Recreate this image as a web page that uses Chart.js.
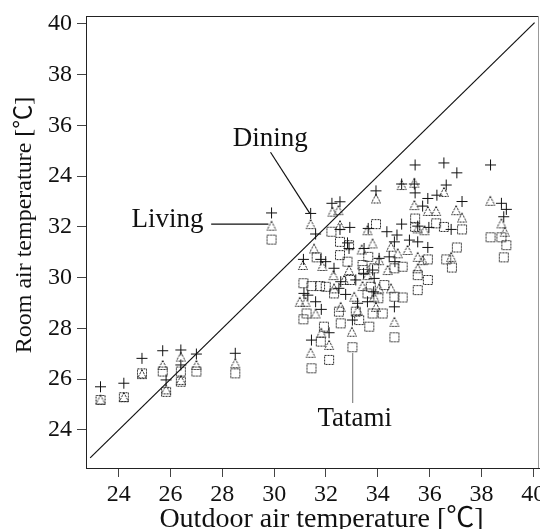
<!DOCTYPE html>
<html>
<head>
<meta charset="utf-8">
<script src="https://cdn.jsdelivr.net/npm/chart.js@4/dist/chart.umd.min.js"></script>
<style>
  body { margin: 0; background: #fff; }
  canvas { display: block; }
</style>
</head>
<body>
<canvas id="myChart" width="540" height="529"></canvas>
<script>
const xTickValues = [24, 26, 28, 30, 32, 34, 36, 38, 40];
const xTickLabels = ['24', '26', '28', '30', '32', '34', '36', '38', '40'];
const yTickValues = [24, 26, 28, 30, 32, 34, 36, 38, 40];
const yTickLabels = ['24', '26', '28', '30', '32', '24', '36', '38', '40']; // "24" at 34 as printed

const livingOut = [23.3, 24.2, 24.9, 25.7, 25.83, 26.4, 26.4, 27.0, 28.5, 29.9,
  35.44, 36.55, 38.35, 37.05, 36.64, 34.92, 35.41, 35.44, 33.93, 35.93, 36.28, 37.25, 38.77, 38.96, 38.86,
  35.73, 32.23, 32.54, 31.41, 31.6, 32.92, 32.54, 33.63, 34.35, 34.92, 35.54, 35.97, 36.83, 34.74, 35.22,
  35.54, 35.93, 34.64, 32.83, 32.89, 33.47, 31.13, 31.8, 31.99, 32.31, 34.05, 34.44, 34.66, 33.8, 33.86,
  33.45, 33.15, 32.57, 32.5, 32.76, 31.15, 31.3, 31.6, 31.82, 33.22, 33.6, 33.84, 34.64, 33.02, 32.12, 31.44];
const livingRoom = [25.7, 25.84, 26.82, 27.12, 25.97, 27.15, 26.56, 26.99, 27.02, 32.55,
  34.44, 34.52, 34.44, 34.13, 33.65, 33.69, 33.69, 33.34, 33.42, 33.12, 33.25, 33.0, 32.93, 32.69, 32.4,
  32.82, 32.93, 32.99, 32.53, 31.72, 31.98, 31.9, 31.94, 31.81, 32.11, 32.03, 31.98, 31.9, 31.68, 31.48,
  31.41, 31.19, 31.41, 31.37, 31.15, 31.15, 30.72, 30.72, 30.63, 30.37, 30.76, 30.82, 30.63, 30.3, 29.97,
  30.17, 29.91, 29.84, 29.58, 29.34, 29.38, 29.31, 29.05, 28.75, 28.99, 29.05, 29.44, 28.85, 28.33, 27.83, 27.54];

const diningOut = [23.3, 24.2, 24.9, 25.7, 25.83, 26.4, 26.4, 27.0, 28.5, 29.9,
  35.41, 34.92, 36.55, 33.93, 38.34, 35.41, 35.93, 36.25, 37.02, 37.25, 31.41, 32.25, 32.48, 38.77, 38.9,
  32.54, 33.6, 35.54, 35.8, 31.54, 33.38, 35.54, 35.54, 31.11, 31.86, 32.29, 32.89, 33.41, 33.09, 34.64,
  33.0, 32.57, 31.82, 32.12, 31.41, 31.21, 30.99, 31.6, 33.86, 36.83, 35.73, 34.05, 34.51,
  34.05, 34.38, 33.6, 34.77, 33.8, 34.51, 35.15, 33.22, 33.93, 32.31, 32.7];
const diningRoom = [25.2, 25.3, 26.2, 26.56, 25.6, 26.89, 25.97, 26.56, 26.63, 32.05,
  33.74, 33.65, 33.38, 33.12, 33.03, 32.86, 32.63, 32.63, 32.66, 32.37, 32.11, 32.6, 32.66, 32.14, 31.81,
  32.07, 31.87, 31.94, 31.87, 31.15, 31.11, 30.82, 30.37, 30.5, 30.46, 30.1, 30.3, 29.67, 29.25, 28.26,
  27.87, 28.85, 27.83, 27.35, 27.04, 29.05, 29.05, 28.59, 29.25, 30.82, 30.69, 29.58, 29.58,
  30.69, 30.3, 30.1, 30.96, 31.35, 31.22, 31.09, 28.72, 28.85, 29.58, 29.91];

const tatamiOut = [23.3, 24.2, 24.9, 25.7, 25.83, 26.4, 26.4, 27.0, 28.5, 29.9,
  33.93, 35.44, 35.44, 36.25, 36.55, 37.25, 38.35, 38.77, 38.96, 38.86, 37.05, 36.64, 36.86, 35.93, 32.21,
  32.54, 32.89, 32.54, 32.83, 31.64, 31.13, 31.77, 31.99, 32.31, 32.93, 33.41, 33.63, 33.45, 33.86, 34.64,
  34.96, 35.54, 35.93, 35.54, 34.96, 34.64, 34.25, 34.02, 33.67, 33.8, 33.28, 32.57, 31.92, 31.8, 31.13,
  31.25, 32.5, 33.15, 34.19, 34.64, 33.02, 32.12, 31.44, 33.6, 33.73, 31.44];
const tatamiRoom = [25.18, 25.29, 26.23, 26.3, 25.5, 26.3, 25.9, 26.3, 26.23, 31.5,
  32.11, 32.33, 32.0, 32.14, 32.0, 31.9, 31.59, 31.59, 31.28, 30.8, 31.19, 30.72, 30.4, 30.72, 31.81,
  31.41, 31.28, 30.89, 30.63, 30.8, 29.78, 29.67, 29.64, 29.38, 29.91, 30.5, 30.82, 30.3, 30.37, 30.37,
  30.43, 30.1, 29.91, 29.51, 29.22, 29.25, 29.71, 29.19, 28.07, 28.59, 28.33, 28.2, 28.07, 27.48, 28.36,
  28.59, 28.66, 28.66, 28.59, 27.65, 27.26, 26.76, 29.67, 29.38, 29.64, 26.43];

const identityLine = [22.9, 40.05];

const noteLabels = ['Living', 'Dining', 'Tatami'];
const noteTextX = [27.27, 29.85, 33.11];
const noteTextY = [32.0, 35.18, 24.17];
const noteAlign = ['right', 'center', 'center'];
const leaderX = [[27.57, 29.78], [29.86, 31.37], [33.03, 33.03]];
const leaderY = [[32.11, 32.11], [34.94, 32.54], [27.03, 25.06]];
const leaderColor = ['#111', '#111', '#888'];

const serif = "'Liberation Serif', 'Noto Sans CJK JP', serif";

function pts(xs, ys) {
  return xs.map((v, i) => ({x: v, y: ys[i]}));
}

// dotted outline markers, like the printed figure
function dottedMarker(kind) {
  const c = document.createElement('canvas');
  c.width = 12; c.height = 12;
  const g = c.getContext('2d');
  g.strokeStyle = '#222';
  g.lineWidth = 1;
  g.setLineDash([2, 1]);
  g.beginPath();
  if (kind === 'rect') {
    g.rect(1.5, 1.5, 9, 9);
  } else {
    g.moveTo(6, 1.5);
    g.lineTo(10.5, 10.5);
    g.lineTo(1.5, 10.5);
    g.closePath();
  }
  g.stroke();
  return c;
}

const leaderSets = noteLabels.map((name, i) => ({
  label: name + ' leader',
  data: pts(leaderX[i], leaderY[i]),
  showLine: true,
  pointRadius: 0,
  borderColor: leaderColor[i],
  borderWidth: 1.2,
}));

const notesPlugin = {
  id: 'notes',
  afterDatasetsDraw(chart) {
    const {ctx, chartArea: a, scales: {x, y}} = chart;
    ctx.save();
    // top and right frame
    ctx.lineWidth = 1;
    ctx.strokeStyle = '#222';
    ctx.beginPath();
    ctx.moveTo(a.left, a.top + 0.5);
    ctx.lineTo(a.right, a.top + 0.5);
    ctx.stroke();
    ctx.strokeStyle = '#999';
    ctx.beginPath();
    ctx.moveTo(a.right - 0.5, a.top);
    ctx.lineTo(a.right - 0.5, a.bottom);
    ctx.stroke();

    ctx.fillStyle = '#111';
    ctx.font = '27px ' + serif;
    ctx.textBaseline = 'alphabetic';
    noteLabels.forEach((t, i) => {
      ctx.textAlign = noteAlign[i];
      ctx.fillText(t, x.getPixelForValue(noteTextX[i]), y.getPixelForValue(noteTextY[i]));
    });

    // axis titles
    ctx.textAlign = 'center';
    ctx.font = '28px ' + serif;
    ctx.fillText('Outdoor air temperature [℃]', (a.left + a.right) / 2 + 9, chart.height - 2);
    ctx.save();
    ctx.translate(25, (a.top + a.bottom) / 2 - 17);
    ctx.rotate(-Math.PI / 2);
    ctx.textBaseline = 'middle';
    ctx.font = '24px ' + serif;
    ctx.fillText('Room air temperature [℃]', 0, 0);
    ctx.restore();
    ctx.restore();
  }
};

const tickFont = {family: serif, size: 24};

const config = {
  type: 'scatter',
  data: {
    datasets: [
      {
        label: 'Living',
        data: pts(livingOut, livingRoom),
        pointStyle: 'cross',
        pointRadius: 5.5,
        borderColor: '#111',
        borderWidth: 1,
      },
      {
        label: 'Dining',
        data: pts(diningOut, diningRoom),
        pointStyle: dottedMarker('triangle'),
        pointRadius: 5,
      },
      {
        label: 'Tatami',
        data: pts(tatamiOut, tatamiRoom),
        pointStyle: dottedMarker('rect'),
        pointRadius: 5,
      },
      ...leaderSets,
      {
        label: 'y = x',
        data: pts(identityLine, identityLine),
        showLine: true,
        pointRadius: 0,
        borderColor: '#111',
        borderWidth: 1.2,
      }
    ]
  },
  options: {
    responsive: false,
    animation: false,
    layout: {autoPadding: false, padding: {top: 16, right: 1, left: 0, bottom: 0}},
    plugins: {
      legend: {display: false},
      tooltip: {enabled: false}
    },
    scales: {
      x: {
        type: 'linear',
        min: 22.74,
        max: 40.22,
        afterBuildTicks: s => { s.ticks = xTickValues.map(v => ({value: v})); },
        afterFit: s => { s.height = 61; s.paddingLeft = 0; s.paddingRight = 0; },
        grid: {drawOnChartArea: false, drawTicks: true, tickLength: 9, tickColor: '#444'},
        border: {color: '#222', width: 1},
        ticks: {
          font: tickFont,
          color: '#111',
          padding: 3,
          maxRotation: 0,
          autoSkip: false,
          callback: (v) => xTickLabels[xTickValues.indexOf(v)]
        }
      },
      y: {
        type: 'linear',
        min: 22.5,
        max: 40.31,
        afterBuildTicks: s => { s.ticks = yTickValues.map(v => ({value: v})); },
        afterFit: s => { s.width = 86; s.paddingTop = 0; s.paddingBottom = 0; },
        grid: {drawOnChartArea: false, drawTicks: true, tickLength: 9, tickColor: '#444'},
        border: {color: '#222', width: 1},
        ticks: {
          font: tickFont,
          color: '#111',
          padding: 5,
          autoSkip: false,
          callback: (v) => yTickLabels[yTickValues.indexOf(v)]
        }
      }
    }
  },
  plugins: [notesPlugin]
};

new Chart(document.getElementById('myChart').getContext('2d'), config);
</script>
</body>
</html>
